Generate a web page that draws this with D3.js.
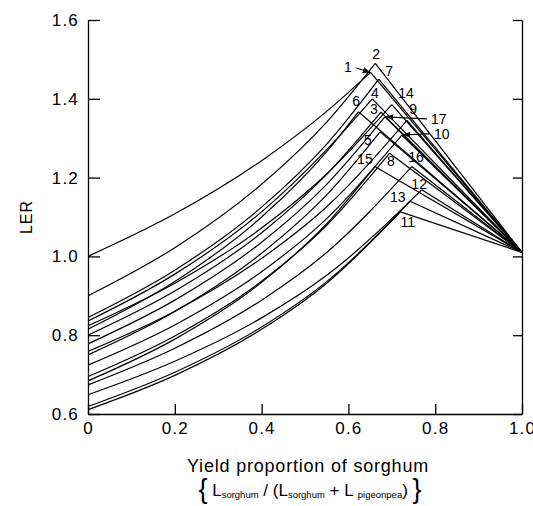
<!DOCTYPE html>
<html>
<head>
<meta charset="utf-8">
<script src="https://cdn.jsdelivr.net/npm/d3@7"></script>
<style>
  body { margin: 0; background: #fff; }
  svg { font-family: "Liberation Sans", Arial, sans-serif; }
  .axis path, .axis line { stroke: #000; stroke-width: 1.3px; }
  .axis text { font-size: 17px; fill: #000; letter-spacing: 1.2px; }
</style>
</head>
<body>
<svg id="chart" width="533" height="506"></svg>
<script>
// curve ids (treatments) and LER
var curveIds = ["1","2","7","4","14","6","3","17","9","5","10","8","15","16","12","13","11"];
var startLER = [1.000, 0.900, 0.845, 0.836, 0.824, 0.815, 0.800, 0.778, 0.759, 0.750, 0.724, 0.695, 0.684, 0.674, 0.649, 0.619, 0.611];
var ler02    = [1.108, 1.022, 0.965, 0.955, 0.932, 0.936, 0.912, 0.889, 0.861, 0.860, 0.826, 0.798, 0.790, 0.767, 0.734, 0.706, 0.698];
var ler04    = [1.243, 1.183, 1.125, 1.113, 1.072, 1.100, 1.060, 1.036, 0.995, 1.008, 0.961, 0.937, 0.934, 0.889, 0.844, 0.821, 0.815];
var ler055   = [1.368, 1.341, 1.285, 1.271, 1.209, 1.266, 1.208, 1.183, 1.126, 1.156, 1.096, 1.079, 1.083, 1.010, 0.952, 0.936, 0.932];
var peakX    = [0.651, 0.662, 0.670, 0.655, 0.700, 0.623, 0.675, 0.684, 0.735, 0.673, 0.723, 0.695, 0.661, 0.746, 0.769, 0.742, 0.720];
var peakY    = [1.467, 1.490, 1.450, 1.400, 1.385, 1.367, 1.366, 1.354, 1.345, 1.316, 1.308, 1.262, 1.228, 1.228, 1.169, 1.140, 1.113];
var endLER = 1.01;

// curve labels (text, x, y in data units)
var labelText = ["1","2","7","14","4","6","9","3","17","10","5","15","8","16","12","13","11"];
var labelX    = [0.599, 0.664, 0.694, 0.733, 0.661, 0.618, 0.749, 0.659, 0.808, 0.815, 0.645, 0.638, 0.698, 0.756, 0.763, 0.714, 0.737];
var labelY    = [1.481, 1.514, 1.471, 1.415, 1.414, 1.394, 1.374, 1.374, 1.349, 1.311, 1.295, 1.247, 1.242, 1.252, 1.184, 1.151, 1.087];
// leader arrows: from [x,y] to [x,y]
var arrows = [
  [[0.618, 1.478], [0.651, 1.467]],
  [[0.781, 1.349], [0.686, 1.354]],
  [[0.786, 1.311], [0.725, 1.308]]
];

var xTicks = [0, 0.2, 0.4, 0.6, 0.8, 1.0];
var yTicks = [0.6, 0.8, 1.0, 1.2, 1.4, 1.6];

var svg = d3.select("#chart");
var x = d3.scaleLinear().domain([0, 1]).range([88, 522]);
var y = d3.scaleLinear().domain([0.6, 1.6]).range([414, 20]);

svg.append("defs").append("marker")
  .attr("id", "arr").attr("viewBox", "0 0 10 10")
  .attr("refX", 10).attr("refY", 5)
  .attr("markerWidth", 7).attr("markerHeight", 7)
  .attr("orient", "auto")
  .append("path").attr("d", "M0,1L10,5L0,9z").attr("fill", "#000");

// axes
svg.append("g").attr("class", "axis")
  .attr("transform", "translate(" + x(0) + ",0)")
  .call(d3.axisLeft(y).tickValues(yTicks).tickSizeInner(-12).tickSizeOuter(0)
    .tickPadding(9).tickFormat(d3.format(".1f")));

svg.append("g").attr("class", "axis")
  .attr("transform", "translate(" + x(1) + ",0)")
  .call(d3.axisRight(y).tickValues(yTicks).tickSizeInner(-9).tickSizeOuter(0)
    .tickFormat(""));

svg.append("g").attr("class", "axis")
  .attr("transform", "translate(0," + y(0.6) + ")")
  .call(d3.axisBottom(x).tickValues(xTicks).tickSizeInner(-10).tickSizeOuter(0)
    .tickPadding(8).tickFormat(function(d) { return d === 0 ? "0" : d3.format(".1f")(d); }));

// curves
var curveLine = d3.line()
  .x(function(d) { return x(d[0]); })
  .y(function(d) { return y(d[1]); })
  .curve(d3.curveMonotoneX);
var straight = d3.line()
  .x(function(d) { return x(d[0]); })
  .y(function(d) { return y(d[1]); });

var curves = svg.append("g").attr("fill", "none").attr("stroke", "#000").attr("stroke-width", 1.2);
curveIds.forEach(function(id, i) {
  var left = [[0, startLER[i]], [0.2, ler02[i]], [0.4, ler04[i]], [0.55, ler055[i]], [peakX[i], peakY[i]]];
  curves.append("path").attr("d", curveLine(left));
  curves.append("path").attr("d", straight([[peakX[i], peakY[i]], [1, endLER]]));
});

// labels
svg.append("g").selectAll("text")
  .data(labelText).enter().append("text")
  .attr("x", function(d, i) { return x(labelX[i]); })
  .attr("y", function(d, i) { return y(labelY[i]); })
  .attr("text-anchor", "middle")
  .attr("dominant-baseline", "central")
  .style("font-size", "14px")
  .text(function(d) { return d; });

svg.append("g").selectAll("line")
  .data(arrows).enter().append("line")
  .attr("x1", function(d) { return x(d[0][0]); })
  .attr("y1", function(d) { return y(d[0][1]); })
  .attr("x2", function(d) { return x(d[1][0]); })
  .attr("y2", function(d) { return y(d[1][1]); })
  .attr("stroke", "#000").attr("stroke-width", 1.1)
  .attr("marker-end", "url(#arr)");

// axis titles
svg.append("text")
  .attr("transform", "translate(32," + y(1.1) + ") rotate(-90)")
  .attr("text-anchor", "middle")
  .style("font-size", "16px")
  .style("letter-spacing", "1px")
  .text("LER");

svg.append("text")
  .attr("x", 308).attr("y", 472)
  .attr("text-anchor", "middle")
  .style("font-size", "18px")
  .style("letter-spacing", "0.8px")
  .text("Yield proportion of sorghum");

var f = svg.append("text")
  .attr("x", 310).attr("y", 496)
  .attr("text-anchor", "middle")
  .style("font-size", "17px");
f.append("tspan").style("font-size", "27px").attr("dy", 2).text("{");
f.append("tspan").attr("dy", -2).text(" L");
f.append("tspan").style("font-size", "9.5px").attr("dy", 2).text("sorghum");
f.append("tspan").attr("dy", -2).text(" / (L");
f.append("tspan").style("font-size", "9.5px").attr("dy", 2).text("sorghum");
f.append("tspan").attr("dy", -2).text(" + L ");
f.append("tspan").style("font-size", "9.5px").attr("dy", 2).text("pigeonpea");
f.append("tspan").attr("dy", -2).text(") ");
f.append("tspan").style("font-size", "27px").attr("dy", 2).text("}");
</script>
</body>
</html>
